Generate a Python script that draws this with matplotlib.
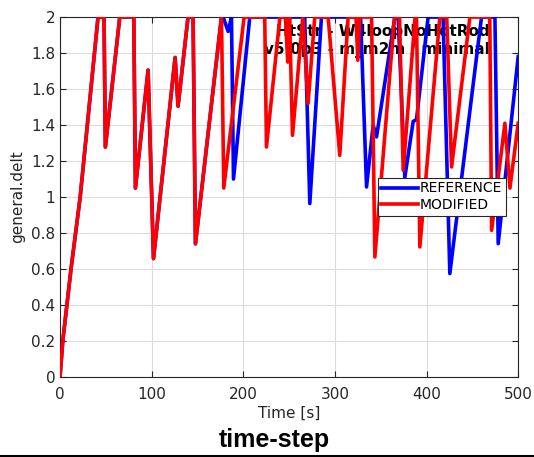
import matplotlib.pyplot as plt
from matplotlib.lines import Line2D

# MODIFIED run
mod_t = [0, 3, 12, 22, 41.5, 48, 49.5, 65.2, 80.5, 82.3, 96.1, 102, 125.6, 128.8, 139.7, 145.2,
         147.8, 161.6, 176.2, 178.7, 200.9, 223.4, 225.3, 240, 246, 248.5, 250.5, 253.7, 265,
         270.7, 278, 292.6, 305.3, 314.4, 323, 325, 327, 340, 343.6, 365, 370.5, 374.5, 387.5,
         389, 392.7, 414.5, 422, 427.3, 447.3, 469, 471, 485.5, 491, 500]
mod_v = [0, 0.2, 0.6, 1.0, 2, 2, 1.278, 2, 2, 1.05, 1.705, 0.658, 1.775, 1.505, 2, 2,
         0.74, 1.353, 2, 1.05, 2, 2, 1.278, 2, 2, 1.75, 2, 1.343, 2,
         1.52, 2, 2, 1.232, 2, 2, 1.76, 2, 2, 0.667, 2, 2, 1.149, 2,
         2, 0.723, 2, 2, 1.167, 2, 2, 0.815, 1.41, 1.05, 1.41]

# REFERENCE run (same as modified up to t=176.2)
ref_t = mod_t[:19] + [178, 183.5, 187.1, 189.3, 207.1, 267, 272.6, 285.3, 328, 334.5, 341.7,
                      345.4, 365.4, 369, 376.3, 385.4, 389, 401.7, 418, 425.4, 454.6, 460,
                      474.6, 478.2, 500]
ref_v = mod_v[:19] + [2, 1.92, 2, 1.10, 2, 2, 0.964, 2, 2, 1.056, 1.40,
                      1.334, 2, 2, 1.11, 1.42, 1.43, 2, 2, 0.575, 1.78, 2,
                      2, 0.741, 1.78]

yticks = [0, 0.2, 0.4, 0.6, 0.8, 1, 1.2, 1.4, 1.6, 1.8, 2]
ylabels = ['0', '0.2', '0.4', '0.6', '0.8', '1', '1.2', '1.4', '1.6', '1.8', '2']
xticks = [0, 100, 200, 300, 400, 500]

fig = plt.figure(figsize=(5.34, 4.57), dpi=100)
ax = fig.add_axes([0.1124, 0.175, 0.858, 0.7877])

ax.plot(ref_t, ref_v, color='#0000ff', lw=2.6, label='REFERENCE', zorder=3)
ax.plot(mod_t, mod_v, color='#ff0000', lw=2.6, label='MODIFIED', zorder=4)

ax.text(0.938, 0.982, 'HtStr - W4loopNoHotRod\nv5.0p3 - m_m2m / minimal', transform=ax.transAxes,
        ha='right', va='top', fontsize=11, fontweight='bold', color='black', zorder=2,
        linespacing=1.3)

ax.set_xlim(0, 500)
ax.set_ylim(0, 2)
ax.set_xticks(xticks)
ax.set_yticks(yticks)
ax.set_yticklabels(ylabels)
ax.grid(True, color='#dcdcdc', lw=0.8)
ax.set_axisbelow(True)
ax.tick_params(direction='in', top=True, right=True, labelsize=11, colors='#262626', length=4)
ax.tick_params(axis='x', pad=7)
for s in ax.spines.values():
    s.set_color('#262626')
    s.set_linewidth(0.8)

ax.set_xlabel('Time [s]', fontsize=11, color='#262626', labelpad=3)
ax.set_ylabel('general.delt', fontsize=11, color='#262626', labelpad=4)

leg = ax.legend(loc='upper left', bbox_to_anchor=(0.694, 0.553), borderaxespad=0, fancybox=False,
                fontsize=10, handlelength=2.6, handletextpad=0.15, borderpad=0.25,
                labelspacing=0.2, framealpha=1)
leg.get_frame().set_edgecolor('#262626')
leg.get_frame().set_linewidth(0.8)
leg.set_zorder(5)

fig.text(0.513, 0.037, 'time-step', ha='center', va='center', fontsize=18, fontweight='bold',
         family='Liberation Sans')
fig.add_artist(Line2D([0, 1], [0.003, 0.003], color='black', lw=1.5))

fig.savefig('out.png', dpi=100)
